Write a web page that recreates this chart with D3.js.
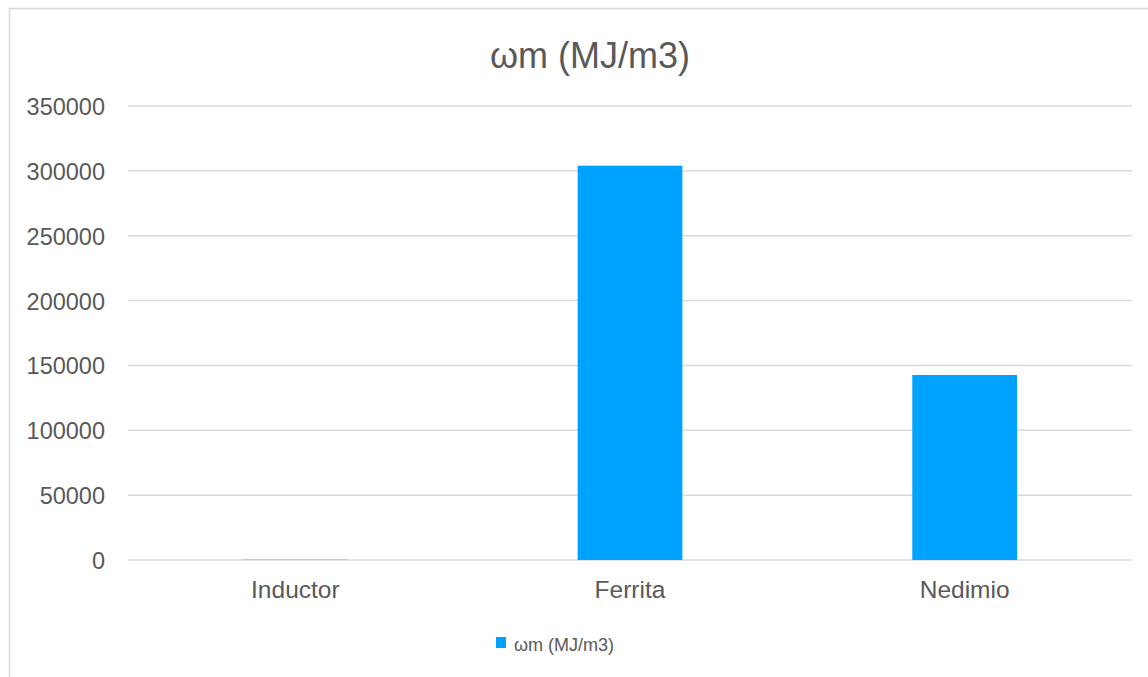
<!DOCTYPE html>
<html>
<head>
<meta charset="utf-8">
<script src="https://cdn.jsdelivr.net/npm/d3@7"></script>
<style>
  html, body { margin: 0; padding: 0; background: #fff; }
  svg { display: block; }
  text { font-family: "Liberation Sans", Arial, Helvetica, sans-serif; fill: #595959; }
</style>
</head>
<body>
<svg id="chart" width="1148" height="677"></svg>
<script>
const chartTitle = "ωm (MJ/m3)";
const seriesName = "ωm (MJ/m3)";
const categories = ["Inductor", "Ferrita", "Nedimio"];
const values = [200, 304000, 142600];
const tickValues = [0, 50000, 100000, 150000, 200000, 250000, 300000, 350000];

const W = 1148, H = 677;
const svg = d3.select("#chart");
const margin = { left: 128, right: 16, top: 106, bottom: 117 };
const plotW = W - margin.left - margin.right;   // 128..1132
const plotH = H - margin.top - margin.bottom;   // 106..560

// outer chart border
svg.append("rect")
  .attr("x", 9.5).attr("y", 8.5)
  .attr("width", 1200).attr("height", 800)
  .attr("fill", "none").attr("stroke", "#d9d9d9").attr("stroke-width", 1.5);

const x = d3.scaleBand().domain(categories).range([margin.left, margin.left + plotW]).padding(0);
const y = d3.scaleLinear().domain([0, 350000]).range([margin.top + plotH, margin.top]);

// gridlines
svg.append("g")
  .selectAll("line")
  .data(tickValues)
  .join("line")
  .attr("x1", margin.left).attr("x2", margin.left + plotW)
  .attr("y1", d => y(d)).attr("y2", d => y(d))
  .attr("stroke", "#d9d9d9").attr("stroke-width", 1.5);

// y tick labels via axis
const yAxis = svg.append("g")
  .attr("transform", `translate(${margin.left - 23},0)`)
  .call(d3.axisLeft(y).tickValues(tickValues).tickSize(0).tickPadding(0).tickFormat(d3.format("d")));
yAxis.select(".domain").remove();
yAxis.selectAll("text")
  .attr("font-size", 23.5)
  .attr("font-family", "'Liberation Sans', Arial, sans-serif")
  .attr("fill", "#595959")
  .attr("dy", "0.36em");

// bars
const barW = x.bandwidth() * 0.313;
svg.append("g")
  .selectAll("rect")
  .data(values)
  .join("rect")
  .attr("x", (d, i) => x(categories[i]) + x.bandwidth() / 2 - barW / 2)
  .attr("y", d => y(d))
  .attr("width", barW)
  .attr("height", d => y(0) - y(d))
  .attr("fill", "#00a2ff");

// x axis labels
const xAxis = svg.append("g")
  .attr("transform", `translate(0,${y(0)})`)
  .call(d3.axisBottom(x).tickSize(0).tickPadding(0));
xAxis.select(".domain").remove();
xAxis.selectAll("text")
  .attr("font-size", 24.5)
  .attr("font-family", "'Liberation Sans', Arial, sans-serif")
  .attr("fill", "#595959")
  .attr("y", 38)
  .attr("dy", 0);

// title
svg.append("text")
  .attr("x", 590).attr("y", 68)
  .attr("text-anchor", "middle")
  .attr("font-size", 36)
  .text(chartTitle);

// legend
svg.append("rect")
  .attr("x", 496).attr("y", 637)
  .attr("width", 10).attr("height", 11)
  .attr("fill", "#00a2ff");
svg.append("text")
  .attr("x", 514).attr("y", 651)
  .attr("font-size", 18)
  .text(seriesName);
</script>
</body>
</html>
